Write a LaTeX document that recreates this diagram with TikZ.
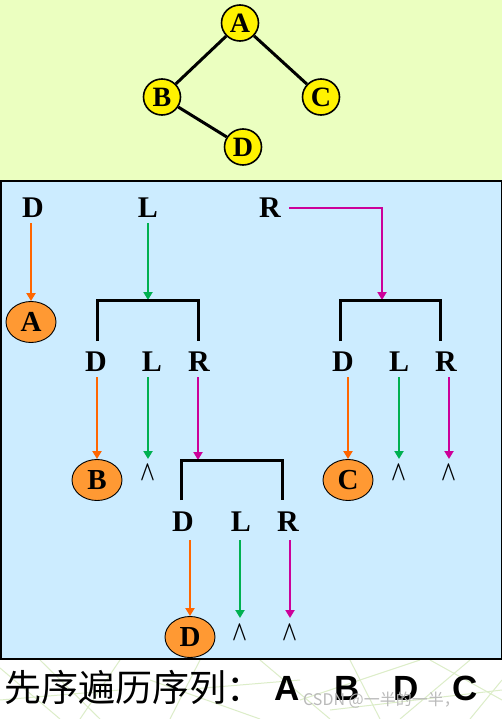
\documentclass[tikz,border=0pt]{standalone}
\usepackage{fontspec}
\setmainfont{Liberation Serif}
\newfontfamily\cjk{Noto Sans CJK SC}
\newfontfamily\arialfont{Liberation Sans}
\usetikzlibrary{arrows.meta,shapes.geometric}
\definecolor{topbg}{HTML}{EBFFC0}
\definecolor{bluebg}{HTML}{CCECFF}
\definecolor{orarr}{HTML}{FF6600}
\definecolor{grarr}{HTML}{00B050}
\definecolor{mgarr}{HTML}{CC0099}
\definecolor{orfill}{HTML}{FF9933}
\definecolor{patline}{HTML}{DCEDC8}
\newcommand{\nilsym}{\scalebox{0.78}[1.12]{\boldmath$\wedge$}}
\begin{document}
\begin{tikzpicture}[x=1pt,y=-1pt,
  lbl/.style={font=\fontsize{30}{30}\selectfont\bfseries, inner sep=0pt},
  nil/.style={font=\fontsize{28}{28}\selectfont, inner sep=0pt},
  tnode/.style={ellipse, draw, line width=1.6pt, fill=yellow, minimum width=37pt, minimum height=36pt, inner sep=0pt, font=\fontsize{28}{28}\selectfont\bfseries},
  onode/.style={ellipse, draw, line width=0.9pt, fill=orfill, minimum width=50pt, minimum height=41pt, inner sep=0pt, font=\fontsize{29}{29}\selectfont\bfseries},
  arr/.style={-{Triangle[length=8pt,width=9pt]}, line width=2.5pt, shorten <=5pt},
  brk/.style={line width=3pt},
  tedge/.style={line width=3pt}]
\useasboundingbox (0,0) rectangle (502,719);
% backgrounds
\fill[topbg] (0,0) rectangle (502,181);
\fill[white] (0,659) rectangle (502,719);
\begin{scope}
\clip (0,660) rectangle (502,719);
\foreach \a/\b/\c/\d in {0/668/60/719, 40/660/100/719, 120/660/80/719, 150/680/260/719, 200/660/170/719, 260/660/330/719, 300/700/420/660, 350/660/380/719, 400/719/470/660, 430/660/502/700, 470/719/502/680, 0/700/120/690, 180/690/300/680, 330/710/502/690}
  \draw[patline, line width=1pt] (\a,\b) -- (\c,\d);
\end{scope}
\fill[bluebg] (0,181) rectangle (502,659);
\draw[line width=1.5pt] (0.75,181) rectangle (501.25,659);
% top tree
\node[tnode] (tA) at (240,23) {A};
\node[tnode] (tB) at (162,97) {B};
\node[tnode] (tC) at (321,97) {C};
\node[tnode] (tD) at (243,147) {D};
\draw[tedge] (tA) -- (tB);
\draw[tedge] (tA) -- (tC);
\draw[tedge] (tB) -- (tD);
% row 1
\node[lbl] (D1) at (33,208) {D};
\node[lbl] (L1) at (148,208) {L};
\node[lbl] (R1) at (270,208) {R};
\node[onode] (nA) at (31,322) {A};
\coordinate (b1) at (148,300);
\coordinate (b2) at (382,300);
\draw[arr,orarr] (D1.south -| nA.north) -- (nA.north);
\draw[arr,grarr] (L1.south) -- (b1);
\draw[arr,mgarr,shorten <=8pt] (R1.east) -| (b2);
\draw[brk] (97,341) -- (97,300) -- (198,300) -- (198,341);
\draw[brk] (340,341) -- (340,300) -- (440,300) -- (440,341);
% row 2 left
\node[lbl] (D2) at (96,362) {D};
\node[lbl] (L2) at (152,362) {L};
\node[lbl] (R2) at (199,362) {R};
\node[onode] (nB) at (97,480) {B};
\node[nil] (n1) at (148,473) {\nilsym};
\coordinate (b3) at (198,460);
\draw[arr,orarr] (D2.south -| nB.north) -- (nB.north);
\draw[arr,grarr] (L2.south -| n1) -- (148,459);
\draw[arr,mgarr] (R2.south -| b3) -- (b3);
\draw[brk] (181,500) -- (181,460) -- (282,460) -- (282,500);
% row 2 right
\node[lbl] (D3) at (343,362) {D};
\node[lbl] (L3) at (399,362) {L};
\node[lbl] (R3) at (446,362) {R};
\node[onode] (nC) at (348,480) {C};
\node[nil] (n2) at (399,473) {\nilsym};
\node[nil] (n3) at (449,473) {\nilsym};
\draw[arr,orarr] (D3.south -| nC.north) -- (nC.north);
\draw[arr,grarr] (L3.south -| n2) -- (399,459);
\draw[arr,mgarr] (R3.south -| n3) -- (449,459);
% row 3
\node[lbl] (D4) at (183,522) {D};
\node[lbl] (L4) at (241,522) {L};
\node[lbl] (R4) at (288,522) {R};
\node[onode] (nD) at (190,637) {D};
\node[nil] (n4) at (240,633) {\nilsym};
\node[nil] (n5) at (290,633) {\nilsym};
\draw[arr,orarr,shorten <=8pt] (D4.south -| nD.north) -- (nD.north);
\draw[arr,grarr,shorten <=8pt] (L4.south -| n4) -- (240,618);
\draw[arr,mgarr,shorten <=8pt] (R4.south -| n5) -- (290,618);
% bottom line
\node[anchor=base west, inner sep=0pt, font=\cjk\fontsize{37}{37}\selectfont] (seq) at (4,701) {先序遍历序列：};
\node[anchor=base, inner sep=0pt, font=\arialfont\bfseries\fontsize{35}{35}\selectfont] (sA) at (287,700) {A};
\node[anchor=base, inner sep=0pt, font=\arialfont\bfseries\fontsize{35}{35}\selectfont] (sB) at (347,700) {B};
\node[anchor=base, inner sep=0pt, font=\arialfont\bfseries\fontsize{35}{35}\selectfont] (sD) at (406,700) {D};
\node[anchor=base, inner sep=0pt, font=\arialfont\bfseries\fontsize{35}{35}\selectfont] (sC) at (465,700) {C};
\node[anchor=base west, inner sep=0pt, text=gray!55, font=\cjk\fontsize{16}{16}\selectfont] (wm) at (303,705) {CSDN @一半的一半，};
\end{tikzpicture}
\end{document}
